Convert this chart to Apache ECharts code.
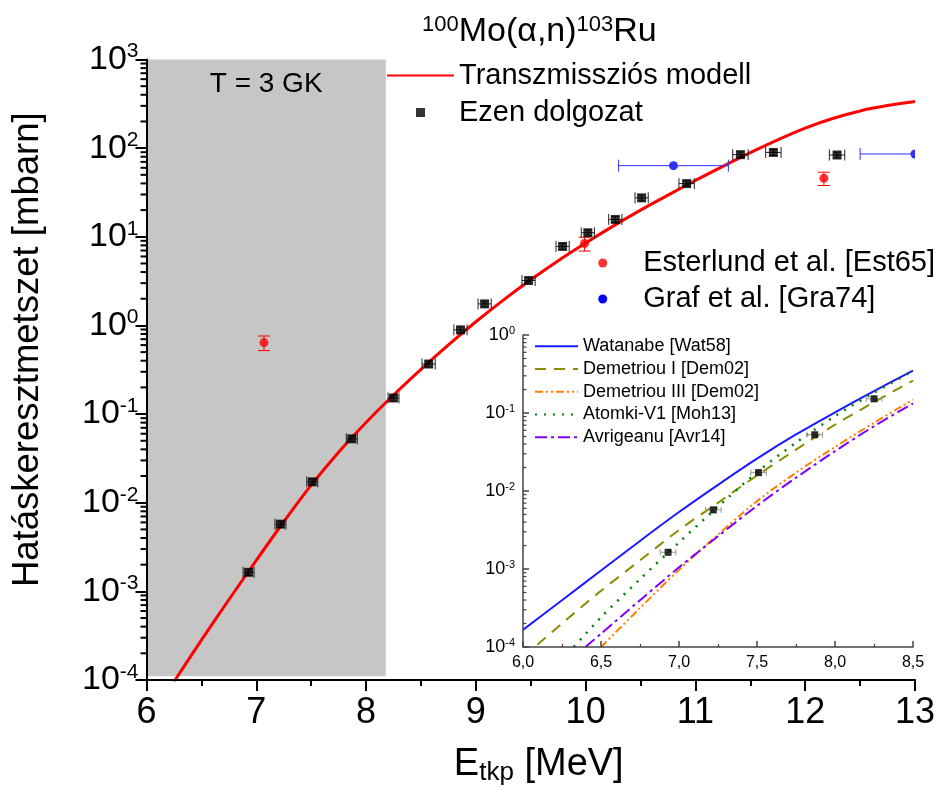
<!DOCTYPE html>
<html><head><meta charset="utf-8">
<script src="https://cdn.jsdelivr.net/npm/echarts@6/dist/echarts.min.js"></script>
<style>html,body{margin:0;padding:0;background:#fff}#c{width:940px;height:791px}</style>
</head><body><div id="c"></div>
<script>
const FONT = 'Liberation Sans, Arial, sans-serif';

// ---- main chart data ----
const modelE = [6.25,6.5,6.75,7,7.25,7.5,7.75,8,8.25,8.5,8.75,9,9.25,9.5,9.75,10,10.25,10.5,10.75,11,11.25,11.5,11.75,12,12.25,12.5,12.75,13];
const modelSigma = [9.55e-5,2.82e-4,8.04e-4,2.24e-3,6.10e-3,0.0158,0.0372,0.0804,0.164,0.320,0.603,1.10,1.93,3.27,5.37,8.51,13.2,20.0,29.5,43.2,62.4,89.1,124,168,216,263,302,335];

const ezenE = [6.93,7.22,7.51,7.87,8.25,8.57,8.86,9.08,9.48,9.79,10.02,10.27,10.51,10.92,11.41,11.71,12.29];
const ezenSigma = [0.00164,0.00573,0.0172,0.0526,0.152,0.367,0.891,1.75,3.21,7.79,11.1,15.7,27.5,39.8,84.4,89.5,83.7];
const ezenDE = [0.05,0.05,0.05,0.05,0.05,0.06,0.06,0.06,0.06,0.06,0.06,0.06,0.06,0.07,0.07,0.07,0.07];
const ezenDSigma = [0.00013,0.00045,0.0013,0.004,0.012,0.028,0.07,0.13,0.25,0.6,0.85,1.2,2.1,3.0,6.5,7,6.5];

const esterE = [7.07,9.99,12.17];
const esterSigma = [0.64,8.4,45.7];
const esterDSigma = [0.12,1.5,7.8];

const grafE = [10.80,13.0];
const grafSigma = [63.4,85.9];
const grafDE = [0.5,0.5];
const grafDSigma = [4,4];

const shadeFrom = 6.0, shadeTo = 8.18;

// ---- inset data ----
const watE = [6.0,6.25,6.5,6.75,7.0,7.25,7.5,7.75,8.0,8.25,8.5];
const watSigma = [1.66e-4,3.98e-4,9.55e-4,2.29e-3,5.37e-3,0.0120,0.0260,0.0531,0.102,0.191,0.349];
const dem1E = [6.0,6.25,6.5,6.75,7.0,7.25,7.5,7.75,8.0,8.25,8.5];
const dem1Sigma = [7.41e-5,2.00e-4,5.25e-4,1.29e-3,3.16e-3,7.08e-3,0.0158,0.0339,0.0708,0.138,0.260];
const dem3E = [6.5,6.75,7.0,7.25,7.5,7.75,8.0,8.25,8.5];
const dem3Sigma = [1.0e-4,3.16e-4,9.77e-4,2.75e-3,7.41e-3,0.0172,0.0367,0.0750,0.148];
const atomE = [6.25,6.5,6.75,7.0,7.25,7.5,7.75,8.0,8.25,8.5];
const atomSigma = [6.76e-5,2.40e-4,7.41e-4,2.19e-3,6.31e-3,0.0174,0.0417,0.0912,0.182,0.347];
const avrE = [6.4,6.5,6.75,7.0,7.25,7.5,7.75,8.0,8.25,8.5];
const avrSigma = [1.0e-4,1.48e-4,3.98e-4,1.05e-3,2.63e-3,6.46e-3,0.0148,0.0324,0.0676,0.133];

const minorMantissa = [2,3,4,5,6,7,8,9];
function minorTickValues(lo, hi) {
  const out = [];
  for (let e = lo; e < hi; e++) for (const m of minorMantissa) out.push(m * Math.pow(10, e));
  return out;
}
const zip = (a, b) => a.map((v, i) => [v, b[i]]);

function errRender(color, lw, capH, capW, circleR) {
  return function (params, api) {
    const x = api.value(0), y = api.value(1), dx = api.value(2), dy = api.value(3);
    const c = api.coord([x, y]);
    const st = { stroke: color, lineWidth: lw };
    const ch = [];
    if (dx > 0) {
      const l = api.coord([x - dx, y]), r = api.coord([x + dx, y]);
      ch.push({ type: 'line', shape: { x1: l[0], y1: c[1], x2: r[0], y2: c[1] }, style: st });
      ch.push({ type: 'line', shape: { x1: l[0], y1: c[1] - capH / 2, x2: l[0], y2: c[1] + capH / 2 }, style: st });
      ch.push({ type: 'line', shape: { x1: r[0], y1: c[1] - capH / 2, x2: r[0], y2: c[1] + capH / 2 }, style: st });
    }
    if (dy > 0) {
      const t = api.coord([x, y + dy]), b = api.coord([x, y - dy]);
      ch.push({ type: 'line', shape: { x1: c[0], y1: t[1], x2: c[0], y2: b[1] }, style: st });
      ch.push({ type: 'line', shape: { x1: c[0] - capW / 2, y1: t[1], x2: c[0] + capW / 2, y2: t[1] }, style: st });
      ch.push({ type: 'line', shape: { x1: c[0] - capW / 2, y1: b[1], x2: c[0] + capW / 2, y2: b[1] }, style: st });
    }
    if (circleR) ch.push({ type: 'circle', shape: { cx: c[0], cy: c[1], r: circleR }, style: { fill: color } });
    const cs = params.coordSys;
    return { type: 'group', children: ch,
      clipPath: { type: 'rect', shape: { x: cs.x, y: cs.y - 20, width: cs.width, height: cs.height + 40 } } };
  };
}

function logLabel(big, small, raise) {
  return {
    formatter: v => '{b|10}{s|' + Math.round(Math.log10(v)) + '}',
    rich: {
      b: { fontSize: big, fontFamily: FONT, color: '#000' },
      s: { fontSize: small, fontFamily: FONT, color: '#000', padding: [0, 0, raise, 0] }
    }
  };
}

const noSym = { color: 'rgba(0,0,0,0)', borderWidth: 0 };
const SQUARE = 'path://M0,0h10v10h-10z';

const chart = echarts.init(document.getElementById('c'), null, { renderer: 'canvas' });
const ezenRows = ezenE.map((e, i) => [e, ezenSigma[i], ezenDE[i], ezenDSigma[i]]);
const esterRows = esterE.map((e, i) => [e, esterSigma[i], 0, esterDSigma[i]]);
const grafRows = grafE.map((e, i) => [e, grafSigma[i], grafDE[i], grafDSigma[i]]);

chart.setOption({
  animation: false,
  backgroundColor: '#fff',
  title: {
    text: '{s|100}{m|Mo(α,n)}{s|103}{m|Ru}',
    left: 417, top: 9,
    textStyle: {
      fontWeight: 'normal',
      rich: {
        m: { fontSize: 34, fontFamily: FONT, color: '#000', fontWeight: 'normal' },
        s: { fontSize: 22, fontFamily: FONT, color: '#000', fontWeight: 'normal', padding: [0, 0, 14, 0] }
      }
    }
  },
  grid: [
    { left: 146.5, right: 25, top: 59.5, bottom: 109 },
    { left: 523, right: 27, top: 335, bottom: 144 }
  ],
  legend: [
    { data: [{ name: 'Transzmissziós modell', itemStyle: noSym }, { name: 'Ezen dolgozat', icon: SQUARE }],
      orient: 'vertical', left: 386, top: 57, padding: 0, symbolKeepAspect: true,
      itemWidth: 67, itemHeight: 9, itemGap: 0, selectedMode: false,
      textStyle: { fontSize: 29, fontFamily: FONT, color: '#000', lineHeight: 37 } },
    { data: [{ name: 'Esterlund et al. [Est65]', icon: 'circle' }, { name: 'Graf et al. [Gra74]', icon: 'circle' }],
      orient: 'vertical', right: 5, top: 245, padding: 0,
      itemWidth: 71, itemHeight: 9, itemGap: 0, selectedMode: false,
      textStyle: { fontSize: 29, fontFamily: FONT, color: '#000', lineHeight: 36 } },
    { data: ['Watanabe [Wat58]', 'Demetriou I [Dem02]', 'Demetriou III [Dem02]', 'Atomki-V1 [Moh13]', 'Avrigeanu [Avr14]']
        .map(n => ({ name: n, itemStyle: noSym })),
      orient: 'vertical', left: 534, top: 335, padding: 0, itemWidth: 43, itemHeight: 12, itemGap: 0, selectedMode: false,
      textStyle: { fontSize: 18, fontFamily: FONT, color: '#000', lineHeight: 22.7 } }
  ],
  xAxis: [
    { type: 'value', gridIndex: 0, min: 6, max: 13, interval: 1, z: 5,
      axisLine: { lineStyle: { color: '#000', width: 2 } },
      axisTick: { length: 11, lineStyle: { width: 2, color: '#000' } },
      minorTick: { show: true, splitNumber: 2, length: 6, lineStyle: { width: 2, color: '#000' } },
      splitLine: { show: false },
      axisLabel: { fontSize: 36, fontFamily: FONT, color: '#000', margin: 15 },
      name: '{m|E}{sub|tkp}{m| [MeV]}', nameLocation: 'middle', nameGap: 64,
      nameTextStyle: { padding: [0, 0, 0, 16], rich: {
        m: { fontSize: 38, fontFamily: FONT, color: '#000' },
        sub: { fontSize: 26, fontFamily: FONT, color: '#000', padding: [16, 0, 0, 0] } } } },
    { type: 'value', gridIndex: 1, min: 6, max: 8.5, interval: 0.5, z: 5,
      axisLine: { lineStyle: { color: '#444', width: 1.5 } },
      axisTick: { inside: true, length: 6, lineStyle: { color: '#444', width: 1.5 } },
      minorTick: { show: true, splitNumber: 2, length: 3, lineStyle: { color: '#444', width: 1.2 } },
      splitLine: { show: false },
      axisLabel: { fontSize: 16, fontFamily: FONT, color: '#000', margin: 8,
        formatter: v => v.toFixed(1).replace('.', ',') } }
  ],
  yAxis: [
    Object.assign({ type: 'log', gridIndex: 0, logBase: 10, min: 1e-4, max: 1e3, splitNumber: 7, z: 5,
      axisLine: { lineStyle: { color: '#000', width: 2 } },
      axisTick: { length: 11, lineStyle: { width: 2, color: '#000' } },
      splitLine: { show: false },
      name: 'Hatáskeresztmetszet [mbarn]', nameLocation: 'middle', nameGap: 100,
      nameTextStyle: { fontSize: 36.5, fontFamily: FONT, color: '#000', padding: [0, 0, 0, 40] } },
      { axisLabel: Object.assign({ margin: 8 }, logLabel(34, 21, 16)) }),
    Object.assign({ type: 'log', gridIndex: 1, logBase: 10, min: 1e-4, max: 1, splitNumber: 4, z: 5,
      axisLine: { lineStyle: { color: '#444', width: 1.5 } },
      axisTick: { inside: true, length: 6, lineStyle: { color: '#444', width: 1.5 } },
      splitLine: { show: false } },
      { axisLabel: Object.assign({ margin: 8 }, logLabel(18, 11, 9)) })
  ],
  series: [
    { name: 'Transzmissziós modell', type: 'line', xAxisIndex: 0, yAxisIndex: 0, data: zip(modelE, modelSigma),
      smooth: 0.3, symbol: 'none', z: 3, lineStyle: { color: '#ff0000', width: 3 }, itemStyle: { color: '#ff0000' },
      markArea: { silent: true, z: 1, itemStyle: { color: '#c6c6c6' },
        label: { show: true, position: 'insideTop', distance: 11, fontSize: 28, fontFamily: FONT, color: '#000' },
        data: [[{ name: 'T = 3 GK', xAxis: shadeFrom, yAxis: 1.1e-4 }, { xAxis: shadeTo, yAxis: 1e3 }]] } },
    { type: 'custom', name: 'ezenErr', xAxisIndex: 0, yAxisIndex: 0, data: ezenRows, encode: { x: 0, y: 1 }, z: 4,
      renderItem: errRender('#222', 1, 11, 8) },
    { name: 'Ezen dolgozat', type: 'scatter', xAxisIndex: 0, yAxisIndex: 0, data: zip(ezenE, ezenSigma),
      symbol: 'rect', symbolSize: 9, z: 5, itemStyle: { color: '#000' } },
    { type: 'custom', name: 'esterErr', xAxisIndex: 0, yAxisIndex: 0, data: esterRows, encode: { x: 0, y: 1 }, z: 4,
      renderItem: errRender('#ff0000', 1, 0, 12) },
    { name: 'Esterlund et al. [Est65]', type: 'scatter', xAxisIndex: 0, yAxisIndex: 0, data: zip(esterE, esterSigma),
      symbol: 'circle', symbolSize: 9, z: 5, itemStyle: { color: '#ff0000' } },
    { name: 'Graf et al. [Gra74]', type: 'custom', xAxisIndex: 0, yAxisIndex: 0, data: grafRows, encode: { x: 0, y: 1 },
      clip: true, z: 5, itemStyle: { color: '#0000ff' }, renderItem: errRender('#3030ff', 1, 12, 6, 4.5) },
    { type: 'custom', name: 'yMinor', xAxisIndex: 0, yAxisIndex: 0, clip: false, silent: true, z: 6,
      data: minorTickValues(-4, 3).map(v => [6, v]), encode: { x: 0, y: 1 },
      renderItem: (p, api) => { const c = api.coord([api.value(0), api.value(1)]);
        return { type: 'line', shape: { x1: c[0] - 6, y1: c[1], x2: c[0], y2: c[1] }, style: { stroke: '#000', lineWidth: 2 } }; } },

    // inset
    { name: 'Watanabe [Wat58]', type: 'line', xAxisIndex: 1, yAxisIndex: 1, data: zip(watE, watSigma), smooth: 0.3,
      symbol: 'none', lineStyle: { color: '#1a1aff', width: 2 }, itemStyle: { color: '#1a1aff' } },
    { name: 'Demetriou I [Dem02]', type: 'line', xAxisIndex: 1, yAxisIndex: 1, data: zip(dem1E, dem1Sigma), smooth: 0.3,
      symbol: 'none', lineStyle: { color: '#8c8c00', width: 2, type: [11, 8] }, itemStyle: { color: '#8c8c00' } },
    { name: 'Demetriou III [Dem02]', type: 'line', xAxisIndex: 1, yAxisIndex: 1, data: zip(dem3E, dem3Sigma), smooth: 0.3,
      symbol: 'none', lineStyle: { color: '#ff8000', width: 2, type: [8, 3, 2, 3, 2, 3] }, itemStyle: { color: '#ff8000' } },
    { name: 'Atomki-V1 [Moh13]', type: 'line', xAxisIndex: 1, yAxisIndex: 1, data: zip(atomE, atomSigma), smooth: 0.3,
      symbol: 'none', lineStyle: { color: '#008000', width: 2.5, type: [2, 7] }, itemStyle: { color: '#008000' } },
    { name: 'Avrigeanu [Avr14]', type: 'line', xAxisIndex: 1, yAxisIndex: 1, data: zip(avrE, avrSigma), smooth: 0.3,
      symbol: 'none', lineStyle: { color: '#8000ff', width: 2, type: [12, 4, 3, 4] }, itemStyle: { color: '#8000ff' } },
    { type: 'custom', name: 'insetErr', xAxisIndex: 1, yAxisIndex: 1, data: ezenRows, encode: { x: 0, y: 1 }, clip: true, z: 4,
      renderItem: errRender('#999', 1, 6, 5) },
    { type: 'scatter', name: 'insetPts', xAxisIndex: 1, yAxisIndex: 1, data: zip(ezenE, ezenSigma), symbol: 'rect', symbolSize: 7,
      z: 5, itemStyle: { color: '#000' } },
    { type: 'custom', name: 'yMinorInset', xAxisIndex: 1, yAxisIndex: 1, clip: false, silent: true, z: 6,
      data: minorTickValues(-4, 0).map(v => [6, v]), encode: { x: 0, y: 1 },
      renderItem: (p, api) => { const c = api.coord([api.value(0), api.value(1)]);
        return { type: 'line', shape: { x1: c[0], y1: c[1], x2: c[0] + 3.5, y2: c[1] }, style: { stroke: '#444', lineWidth: 1.2 } }; } }
  ]
});
</script></body></html>
